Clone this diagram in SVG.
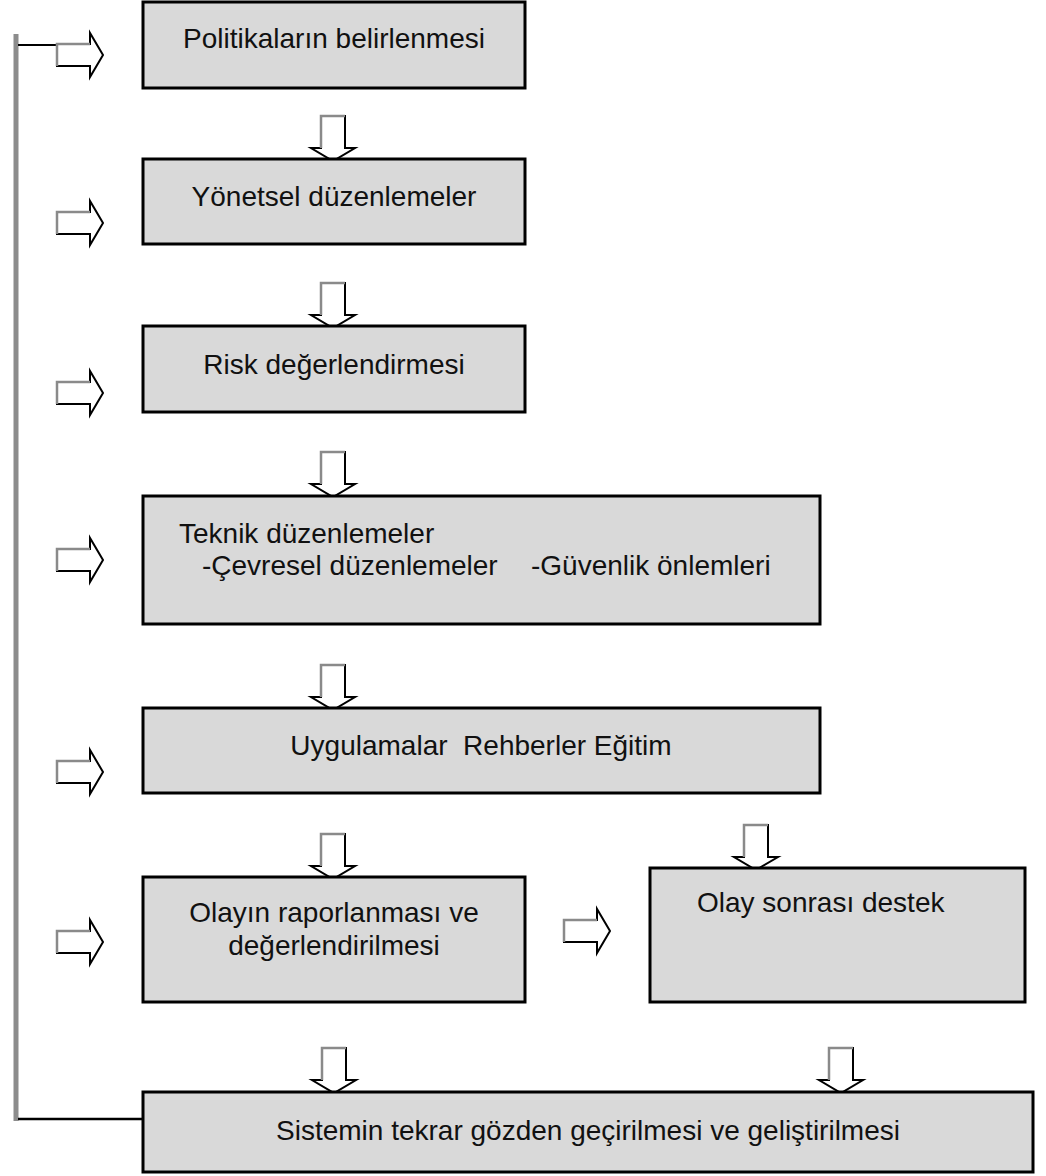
<svg xmlns="http://www.w3.org/2000/svg" xmlns:xlink="http://www.w3.org/1999/xlink" width="1046" height="1176" viewBox="0 0 1046 1176">
<style>
.box{fill:#d9d9d9;stroke:#000;stroke-width:3}
.t{font-family:"Liberation Sans",Arial,sans-serif;font-size:28px;fill:#111}
.c{text-anchor:middle}
.ar{fill:#fff;stroke:#000;stroke-width:2;stroke-linejoin:miter}
.sh{fill:none;stroke:#8a8a8a;stroke-width:2.5}
</style>
<defs>
<g id="down">
<polygon class="ar" points="-12,0 12,0 12,32 22,32 0,45 -22,32 -12,32"/>
<polyline class="sh" points="-12,32 -12,0 12,0"/>
</g>
<g id="right">
<polygon class="ar" points="0,-11 33,-11 33,-22 46,0 33,22 33,11 0,11"/>
<polyline class="sh" points="0,11 0,-11 33,-11"/>
</g>
</defs>
<rect width="1046" height="1176" fill="#fff"/>
<g id="connectors">
<line x1="16" y1="34" x2="16" y2="1121" stroke="#8c8c8c" stroke-width="5"/>
<line x1="18" y1="45" x2="57" y2="45" stroke="#000" stroke-width="2"/>
<line x1="18" y1="1119" x2="143" y2="1119" stroke="#000" stroke-width="2.5"/>
<use xlink:href="#right" x="57" y="55"/>
<use xlink:href="#right" x="57" y="223"/>
<use xlink:href="#right" x="57" y="393"/>
<use xlink:href="#right" x="57" y="560"/>
<use xlink:href="#right" x="57" y="772"/>
<use xlink:href="#right" x="57" y="942"/>
<use xlink:href="#right" x="564" y="931"/>
<use xlink:href="#down" x="333" y="116"/>
<use xlink:href="#down" x="333" y="283"/>
<use xlink:href="#down" x="333" y="452"/>
<use xlink:href="#down" x="333" y="665"/>
<use xlink:href="#down" x="333" y="834"/>
<use xlink:href="#down" x="756" y="825"/>
<use xlink:href="#down" x="334" y="1048"/>
<use xlink:href="#down" x="841" y="1048"/>
</g>
<g id="n1"><rect class="box" x="143" y="2" width="382" height="86"/><text class="t c" x="334" y="48">Politikaların belirlenmesi</text></g>
<g id="n2"><rect class="box" x="143" y="159" width="382" height="85"/><text class="t c" x="334" y="206">Yönetsel düzenlemeler</text></g>
<g id="n3"><rect class="box" x="143" y="326" width="382" height="86"/><text class="t c" x="334" y="374">Risk değerlendirmesi</text></g>
<g id="n4"><rect class="box" x="143" y="496" width="677" height="128"/><text class="t" x="179" y="543">Teknik düzenlemeler</text><text class="t" x="202" y="575">-Çevresel düzenlemeler</text><text class="t" x="531" y="575">-Güvenlik önlemleri</text></g>
<g id="n5"><rect class="box" x="143" y="708" width="677" height="85"/><text class="t c" x="481" y="755" xml:space="preserve">Uygulamalar  Rehberler Eğitim</text></g>
<g id="n6"><rect class="box" x="143" y="877" width="382" height="125"/><text class="t c" x="334" y="922">Olayın raporlanması ve</text><text class="t c" x="334" y="955">değerlendirilmesi</text></g>
<g id="n7"><rect class="box" x="650" y="868" width="375" height="134"/><text class="t" x="697" y="912">Olay sonrası destek</text></g>
<g id="n8"><rect class="box" x="143" y="1092" width="890" height="80"/><text class="t c" x="588" y="1140">Sistemin tekrar gözden geçirilmesi ve geliştirilmesi</text></g>
</svg>
